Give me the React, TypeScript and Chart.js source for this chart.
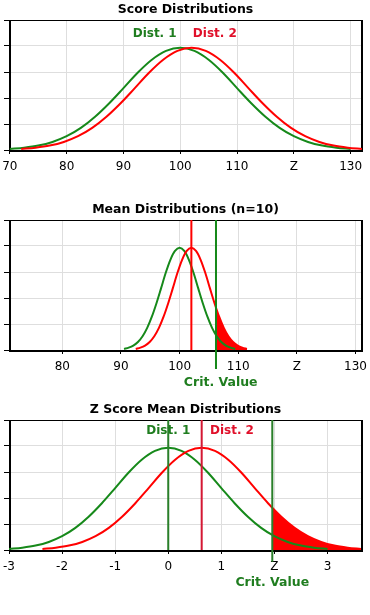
import React, { useEffect, useRef } from "react";
import { Chart, registerables } from "chart.js";

// ---- data ----
// bell shape (heights in grid units, peak ≈ 3.93 of 5) sampled every 0.25 SD
const sdOffsets = [-3, -2.75, -2.5, -2.25, -2, -1.75, -1.5, -1.25, -1, -0.75, -0.5, -0.25, 0, 0.25, 0.5, 0.75, 1, 1.25, 1.5, 1.75, 2, 2.25, 2.5, 2.75, 3];
const bellHeights = [0.04, 0.09, 0.17, 0.31, 0.53, 0.85, 1.28, 1.8, 2.38, 2.97, 3.47, 3.81, 3.93, 3.81, 3.47, 2.97, 2.38, 1.8, 1.28, 0.85, 0.53, 0.31, 0.17, 0.09, 0.04];

const scoreMeans = [100, 102];
const scoreSD = 10;
const scoreTicks = [70, 80, 90, 100, 110, 120, 130];
const scoreTickLabels = ["70", "80", "90", "100", "110", "Z", "130"];

const meanMeans = [100, 102];
const meanSD = 3.16;
const meanCrit = 106.2;
const meanTicks = [80, 90, 100, 110, 120, 130];
const meanTickLabels = ["80", "90", "100", "110", "Z", "130"];

const zMeans = [0, 0.63];
const zSD = 1;
const zCrit = 1.96;
const zTicks = [-3, -2, -1, 0, 1, 2, 3];
const zTickLabels = ["-3", "-2", "-1", "0", "1", "Z", "3"];

const titles = ["Score Distributions", "Mean Distributions (n=10)", "Z Score Mean Distributions"];

// ---- styles ----
const GREEN = "#16891a";
const RED = "#ff0000";
const GREEN_TEXT = "#1f7d1f";
const RED_TEXT = "#e0102a";
const FONT = "'DejaVu Sans', Verdana, sans-serif";

const shadeClip = {
  id: "shadeClip",
  beforeDatasetDraw(chart: any, args: any) {
    const ds: any = chart.data.datasets[args.index];
    if (ds.shadeFrom === undefined) return;
    const a = chart.chartArea;
    const x0 = chart.scales.x.getPixelForValue(ds.shadeFrom);
    const ctx = chart.ctx;
    ctx.save();
    ctx.beginPath();
    ctx.rect(x0, a.top, a.right - x0, a.bottom - a.top);
    ctx.clip();
  },
  afterDatasetDraw(chart: any, args: any) {
    const ds: any = chart.data.datasets[args.index];
    if (ds.shadeFrom === undefined) return;
    chart.ctx.restore();
  },
};

Chart.register(shadeClip, ...registerables);
Chart.defaults.font.family = FONT;

function curve(mean: number, sd: number) {
  return sdOffsets.map((o, i) => ({ x: mean + o * sd, y: bellHeights[i] }));
}

type VLine = { x: number; color: string; bottom: number };
type Txt = { text: string; x: number; y: number; color: string; size: number };
type Spec = {
  title: string;
  min: number;
  max: number;
  ticks: number[];
  labels: string[];
  means: number[];
  sd: number;
  shadeFrom?: number;
  vlines: VLine[];
  texts: Txt[];
  padTop: number;
  height: number;
  plotH: number;
};

function buildConfig(spec: Spec): any {
  const datasets: any[] = [];
  spec.vlines.forEach((v) =>
    datasets.push({
      data: [
        { x: v.x, y: 5 },
        { x: v.x, y: v.bottom },
      ],
      borderColor: v.color,
      borderWidth: 2,
      pointRadius: 0,
      fill: false,
      tension: 0,
      clip: { left: 2, right: 2, top: 2, bottom: 30 },
    })
  );
  datasets.push({
    data: curve(spec.means[1], spec.sd),
    borderColor: RED,
    borderWidth: 2,
    pointRadius: 0,
    fill: false,
    cubicInterpolationMode: "monotone",
  });
  datasets.push({
    data: curve(spec.means[0], spec.sd),
    borderColor: GREEN,
    borderWidth: 2,
    pointRadius: 0,
    fill: false,
    cubicInterpolationMode: "monotone",
  });
  if (spec.shadeFrom !== undefined) {
    datasets.push({
      data: curve(spec.means[1], spec.sd),
      shadeFrom: spec.shadeFrom,
      borderWidth: 0,
      borderColor: "rgba(0,0,0,0)",
      backgroundColor: RED,
      pointRadius: 0,
      fill: "origin",
      cubicInterpolationMode: "monotone",
    });
  }

  const decor = {
    id: "decor",
    beforeDatasetsDraw(chart: any) {
      const { ctx, chartArea: a } = chart;
      ctx.save();
      ctx.fillStyle = "#000";
      ctx.fillRect(a.left, a.top, a.right - a.left, 1);
      ctx.fillRect(a.left, a.top, 2, a.bottom - a.top + 2);
      ctx.fillRect(a.left, a.bottom, a.right - a.left + 1, 2);
      ctx.fillRect(a.right - 1, a.top, 2, a.bottom - a.top + 2);
      ctx.restore();
    },
    afterDraw(chart: any) {
      const { ctx, chartArea: a } = chart;
      const xs = chart.scales.x;
      const ys = chart.scales.y;
      ctx.save();
      ctx.textAlign = "center";
      ctx.textBaseline = "middle";
      ctx.font = `bold 12.5px ${FONT}`;
      ctx.fillStyle = "#000";
      ctx.fillText(spec.title, (a.left + a.right) / 2, a.top - 10);
      spec.texts.forEach((t) => {
        ctx.font = `bold ${t.size}px ${FONT}`;
        ctx.fillStyle = t.color;
        ctx.fillText(t.text, xs.getPixelForValue(t.x), ys.getPixelForValue(t.y));
      });
      ctx.restore();
    },
  };

  return {
    type: "line",
    data: { datasets },
    plugins: [decor],
    options: {
      animation: false,
      responsive: false,
      maintainAspectRatio: false,
      layout: { padding: { top: spec.padTop, right: 8, left: 0, bottom: 0 } },
      plugins: { legend: { display: false }, tooltip: { enabled: false }, title: { display: false } },
      scales: {
        x: {
          type: "linear",
          min: spec.min,
          max: spec.max,
          afterBuildTicks: (s: any) => {
            s.ticks = spec.ticks.map((v) => ({ value: v }));
          },
          afterFit: (s: any) => {
            s.height = spec.height - spec.padTop - spec.plotH;
            s.paddingLeft = 0;
            s.paddingRight = 0;
          },
          ticks: {
            callback: (_v: any, i: number) => spec.labels[i],
            font: { family: FONT, size: 12 },
            color: "#000",
            padding: 6,
            maxRotation: 0,
            autoSkip: false,
          },
          grid: { color: "#dedede", tickColor: "#000", tickLength: 4, lineWidth: 1 },
          border: { display: false },
        },
        y: {
          min: 0,
          max: 5,
          ticks: { display: false, stepSize: 1 },
          afterFit: (s: any) => {
            s.width = 9;
            s.paddingTop = 0;
            s.paddingBottom = 0;
          },
          grid: { color: "#dedede", tickColor: "#000", tickLength: 5, lineWidth: 1 },
          border: { display: false },
        },
      },
    },
  };
}

const specs: { spec: Spec; top: number }[] = [
  {
    top: 0,
    spec: {
      title: titles[0],
      min: 69.85,
      max: 132,
      ticks: scoreTicks,
      labels: scoreTickLabels,
      means: scoreMeans,
      sd: scoreSD,
      vlines: [],
      texts: [
        { text: "Dist. 1", x: 95.5, y: 4.45, color: GREEN_TEXT, size: 12 },
        { text: "Dist. 2", x: 106.1, y: 4.45, color: RED_TEXT, size: 12 },
      ],
      padTop: 20,
      height: 200,
      plotH: 130,
    },
  },
  {
    top: 200,
    spec: {
      title: titles[1],
      min: 70.9,
      max: 131.1,
      ticks: meanTicks,
      labels: meanTickLabels,
      means: meanMeans,
      sd: meanSD,
      shadeFrom: meanCrit,
      vlines: [
        { x: meanMeans[1], color: RED, bottom: 0 },
        { x: meanCrit, color: GREEN, bottom: -0.73 },
      ],
      texts: [{ text: "Crit. Value", x: 107, y: -1.27, color: GREEN_TEXT, size: 12.5 }],
      padTop: 20,
      height: 195,
      plotH: 130,
    },
  },
  {
    top: 395,
    spec: {
      title: titles[2],
      min: -3,
      max: 3.65,
      ticks: zTicks,
      labels: zTickLabels,
      means: zMeans,
      sd: zSD,
      shadeFrom: zCrit,
      vlines: [
        { x: zMeans[0], color: "#2a7f2a", bottom: 0 },
        { x: zMeans[1], color: "#d41834", bottom: 0 },
        { x: zCrit, color: "#2a7f2a", bottom: -0.45 },
      ],
      texts: [
        { text: "Dist. 1", x: 0, y: 4.57, color: GREEN_TEXT, size: 12 },
        { text: "Dist. 2", x: 1.2, y: 4.57, color: RED_TEXT, size: 12 },
        { text: "Crit. Value", x: 1.96, y: -1.25, color: GREEN_TEXT, size: 12.5 },
      ],
      padTop: 25,
      height: 220,
      plotH: 130,
    },
  },
];

function DistChart({ spec, top }: { spec: Spec; top: number }) {
  const ref = useRef<HTMLCanvasElement>(null);
  useEffect(() => {
    const chart = new Chart(ref.current as HTMLCanvasElement, buildConfig(spec));
    return () => chart.destroy();
  }, []);
  return (
    <canvas
      ref={ref}
      width={370}
      height={spec.height}
      style={{ position: "absolute", left: 0, top, display: "block" }}
    />
  );
}

export default function App() {
  return (
    <div style={{ position: "absolute", left: 0, top: 0, width: 370, height: 615, background: "#fff" }}>
      {specs.map((s, i) => (
        <DistChart key={i} spec={s.spec} top={s.top} />
      ))}
    </div>
  );
}
